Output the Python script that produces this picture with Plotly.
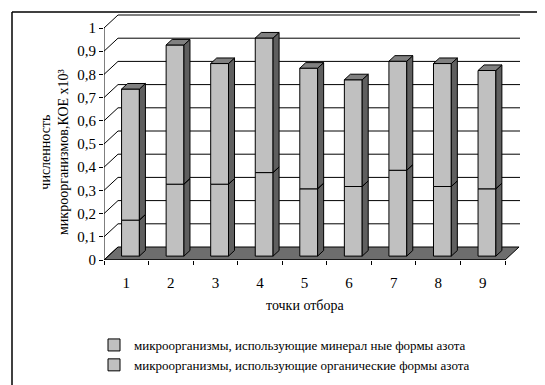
import plotly.graph_objects as go

categories = ["1", "2", "3", "4", "5", "6", "7", "8", "9"]
mineral = [0.155, 0.31, 0.31, 0.36, 0.29, 0.30, 0.37, 0.30, 0.29]
organic = [0.565, 0.60, 0.52, 0.58, 0.52, 0.46, 0.47, 0.53, 0.51]
ytick_vals = [0, 0.1, 0.2, 0.3, 0.4, 0.5, 0.6, 0.7, 0.8, 0.9, 1.0]
ytick_text = ["0", "0,1", "0,2", "0,3", "0,4", "0,5", "0,6", "0,7", "0,8", "0,9", "1"]
name_min = "микроорганизмы, использующие минерал ные формы азота"
name_org = "микроорганизмы, использующие органические формы азота"

FONT = "Liberation Serif, Times New Roman, serif"
OFF = 8   # page body margin
W, H = 545, 385
ML = 104 - OFF
MT = 13 - OFF
PW = 416
PH = 247
MR = W - ML - PW
MB = H - MT - PH
n = len(categories)
XR = [0.5, 0.5 + PW / 44.56]
YR = [0, PH / 232.0]
dx, dy = 14 / 44.56, 13 / 232.0      # depth of the 3D box
f = 0.3                              # bar front position in depth
bdx, bdy = 0.135, 0.024              # bar depth
bw = 0.40
FACE = "#c0c0c0"
SIDE = "#5f5f5f"
TOP = "#808080"
FLOOR = "#6e6e6e"

xpos = [i + 1 + f * dx for i in range(n)]
base0 = f * dy

fig = go.Figure()
fig.add_trace(go.Bar(x=xpos, y=mineral, base=[base0] * n, width=bw, name=name_min,
                     marker=dict(color=FACE, line=dict(color="black", width=1))))
fig.add_trace(go.Bar(x=xpos, y=organic, base=[base0 + m for m in mineral], width=bw, name=name_org,
                     marker=dict(color=FACE, line=dict(color="black", width=1))))

# side and top faces derived from data
sx, sy, tx, ty = [], [], [], []
for i in range(n):
    xl = xpos[i] - bw / 2
    xr = xpos[i] + bw / 2
    segs = [(base0, base0 + mineral[i]), (base0 + mineral[i], base0 + mineral[i] + organic[i])]
    for b, t in segs:
        sx += [xr, xr + bdx, xr + bdx, xr, xr, None]
        sy += [b, b + bdy, t + bdy, t, b, None]
    top = segs[-1][1]
    tx += [xl, xl + bdx, xr + bdx, xr, xl, None]
    ty += [top, top + bdy, top + bdy, top, top, None]
fig.add_trace(go.Scatter(x=sx, y=sy, mode="lines", fill="toself", fillcolor=SIDE,
                         line=dict(color="black", width=1), showlegend=False, hoverinfo="skip"))
fig.add_trace(go.Scatter(x=tx, y=ty, mode="lines", fill="toself", fillcolor=TOP,
                         line=dict(color="black", width=1), showlegend=False, hoverinfo="skip"))

shapes = []
x0, x1 = 0.5, 0.5 + n
# floor
shapes.append(dict(type="path", layer="below", xref="x", yref="y",
                   path=f"M {x0},0 L {x1},0 L {x1+dx},{dy} L {x0+dx},{dy} Z",
                   fillcolor=FLOOR, line=dict(color="black", width=1)))
# wall gridlines
for v in ytick_vals:
    shapes.append(dict(type="line", layer="below", xref="x", yref="y",
                       x0=x0, y0=v, x1=x0 + dx, y1=v + dy, line=dict(color="black", width=1)))
    if v > 0:
        shapes.append(dict(type="line", layer="below", xref="x", yref="y",
                           x0=x0 + dx, y0=v + dy, x1=XR[1], y1=v + dy,
                           line=dict(color="black", width=1)))
# front axis lines
shapes.append(dict(type="line", xref="x", yref="y", x0=x0, y0=0, x1=x0, y1=1,
                   line=dict(color="black", width=1)))
shapes.append(dict(type="line", xref="x", yref="y", x0=x0, y0=0, x1=x1, y1=0,
                   line=dict(color="black", width=1)))

def px2paper(px, py):
    """screen pixel -> paper coords"""
    fx, fy = px - OFF, py - OFF
    return (fx - ML) / PW, (MT + PH - fy) / PH

# outer frame (top and left edges)
ax0, ay0 = px2paper(12, 12)
ax1, _ = px2paper(560, 12)
_, ay1 = px2paper(12, 400)
shapes.append(dict(type="line", xref="paper", yref="paper", x0=ax0, y0=ay0, x1=ax1, y1=ay0,
                   line=dict(color="black", width=1.5)))
shapes.append(dict(type="line", xref="paper", yref="paper", x0=ax0, y0=ay0, x1=ax0, y1=ay1,
                   line=dict(color="black", width=1.5)))

tx_, ty_ = px2paper(54, 152)
xtx, xty = px2paper(305, 305)
lgx, lgy = px2paper(94, 330)
annotations = [
    dict(text="численность<br>микроорганизмов,КОЕ х10³", xref="paper", yref="paper",
         x=tx_, y=ty_, xanchor="center", yanchor="middle", textangle=-90, showarrow=False,
         font=dict(family=FONT, size=14, color="black")),
    dict(text="точки отбора", xref="paper", yref="paper", x=xtx, y=xty,
         xanchor="center", yanchor="middle", showarrow=False,
         font=dict(family=FONT, size=14, color="black")),
]

fig.update_layout(
    width=W, height=H, margin=dict(l=ML, r=MR, t=MT, b=MB, autoexpand=False),
    paper_bgcolor="white", plot_bgcolor="white",
    barmode="overlay",
    font=dict(family=FONT, size=14, color="black"),
    shapes=shapes, annotations=annotations,
    legend=dict(x=lgx, y=lgy, xanchor="left", yanchor="top", traceorder="normal",
                itemwidth=30, tracegroupgap=0,
                font=dict(family=FONT, size=13), bgcolor="rgba(0,0,0,0)"),
    xaxis=dict(range=XR, tickvals=list(range(1, n + 1)), ticktext=categories, ticks="",
               showgrid=False, zeroline=False, showline=False, ticklabelstandoff=12,
               minor=dict(ticks="outside", ticklen=4, tick0=0.5, dtick=1, tickcolor="black", showgrid=False),
               tickfont=dict(family=FONT, size=15)),
    yaxis=dict(range=YR, tickvals=ytick_vals, ticktext=ytick_text, ticks="outside", ticklen=4,
               tickcolor="black", showgrid=False, zeroline=False, showline=False,
               tickfont=dict(family=FONT, size=15)),
)
fig.write_html("out.html")
